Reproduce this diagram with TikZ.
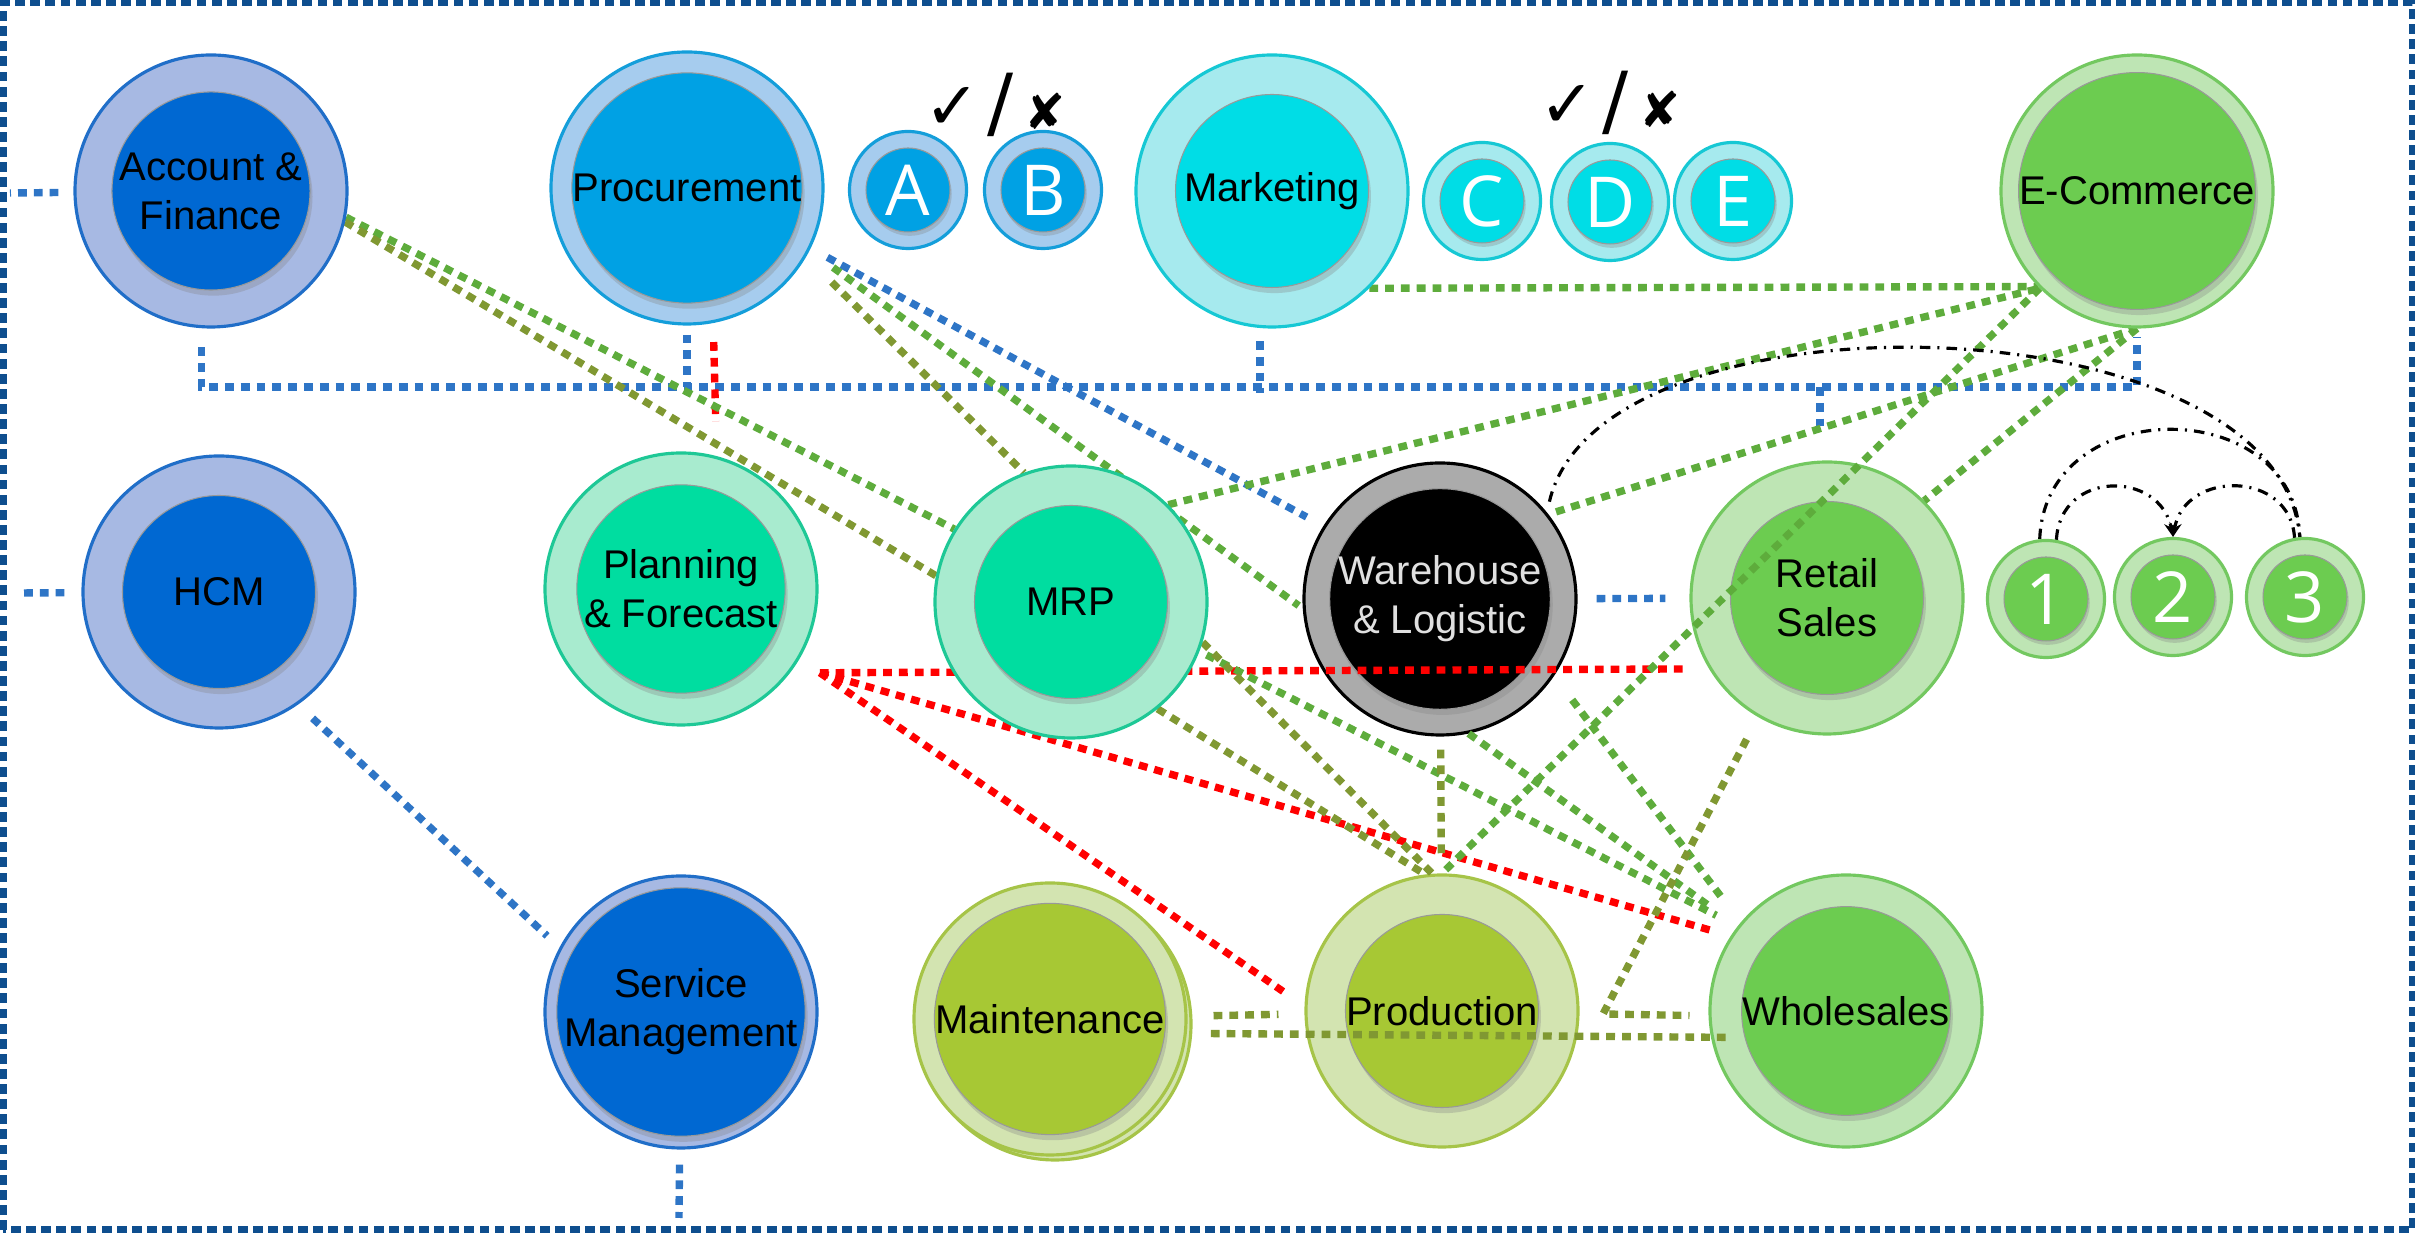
\documentclass[tikz,border=0pt]{standalone}
\usepackage{fontspec}
\setmainfont{Liberation Sans}
\newfontfamily\letterfont{Open Sans}
\newfontfamily\symfont{DejaVu Sans}
\usetikzlibrary{shadows,arrows.meta}

\definecolor{navyfill}{RGB}{167,185,227}
\definecolor{navyedge}{RGB}{32,110,200}
\definecolor{navyball}{RGB}{0,104,210}
\definecolor{skyfill}{RGB}{166,204,238}
\definecolor{skyedge}{RGB}{20,158,218}
\definecolor{skyball}{RGB}{0,161,228}
\definecolor{cyanfill}{RGB}{166,234,238}
\definecolor{cyanedge}{RGB}{22,200,212}
\definecolor{cyanball}{RGB}{0,221,230}
\definecolor{mintfill}{RGB}{168,235,207}
\definecolor{mintedge}{RGB}{30,200,150}
\definecolor{mintball}{RGB}{0,221,160}
\definecolor{leaffill}{RGB}{190,229,180}
\definecolor{leafedge}{RGB}{115,200,96}
\definecolor{leafball}{RGB}{108,204,80}
\definecolor{limefill}{RGB}{211,228,177}
\definecolor{limeedge}{RGB}{166,196,72}
\definecolor{limeball}{RGB}{167,200,52}
\definecolor{greyfill}{RGB}{171,171,171}
\definecolor{framecol}{RGB}{14,78,142}
\definecolor{buscol}{RGB}{46,117,198}
\definecolor{linkgreen}{RGB}{94,172,60}
\definecolor{linkolive}{RGB}{128,152,50}

\pgfdeclarelayer{under}
\pgfdeclarelayer{links}
\pgfsetlayers{under,links,main}

\tikzset{
  ring/.style 2 args={circle, minimum size=2.72cm, inner sep=0pt, fill=#1, draw=#2, line width=0.9pt},
  smallring/.style 2 args={circle, minimum size=1.17cm, inner sep=0pt, fill=#1, draw=#2, line width=0.9pt},
  ball/.style={circle, minimum size=1.93cm, inner sep=0pt, fill=#1, draw=black!40, line width=0.3pt,
    drop shadow={shadow xshift=0.7pt, shadow yshift=-1.6pt, opacity=0.3}, align=center,
    font=\fontsize{11.4}{14}\selectfont},
  smallball/.style={circle, minimum size=0.84cm, inner sep=0pt, fill=#1, draw=black!40, line width=0.3pt,
    drop shadow={shadow xshift=0.5pt, shadow yshift=-1.1pt, opacity=0.3}, text=white,
    font=\letterfont\fontsize{20}{20}\selectfont},
  ticks/.style={inner sep=0pt, font=\symfont},
  linkline/.style={line width=2.1pt, dash pattern=on 2.5pt off 2pt},
  bluelink/.style={linkline, buscol},
  redlink/.style={linkline, red},
  greenlink/.style={linkline, linkgreen},
  olivelink/.style={linkline, linkolive},
  arclink/.style={black, line width=0.9pt, dash pattern=on 3pt off 2pt on 0.6pt off 2pt},
  framebox/.style={framecol, line width=2pt, dash pattern=on 2.8pt off 1.5pt}
}

\begin{document}
\begin{tikzpicture}
\useasboundingbox (0,0) rectangle (24.15,12.33);
\draw[framebox] (0.03,0.03) rectangle (24.12,12.30);

\begin{pgfonlayer}{under}
\node[ring={greyfill}{black}] (wh) at (14.40,6.34) {};
\node[ball=black, text=black!12] at (wh) {Warehouse\\\& Logistic};
\node[ring={leaffill}{leafedge}] (retail) at (18.27,6.35) {};
\node[ball=leafball] at (retail) {Retail\\Sales};
\node[ring={limefill}{limeedge}] (prod) at (14.42,2.22) {};
\node[ball=limeball] at (prod) {Production};
\node[ring={leaffill}{leafedge}] (whole) at (18.46,2.22) {};
\node[ball=leafball] at (whole) {Wholesales};
\end{pgfonlayer}

\node[ring={navyfill}{navyedge}] (acc) at (2.11,10.42) {};
\node[ball=navyball] at (acc) {Account \&\\Finance};
\node[ring={navyfill}{navyedge}] (hcm) at (2.19,6.41) {};
\node[ball=navyball] at (hcm) {HCM};
\node[ring={navyfill}{navyedge}] (svc) at (6.81,2.21) {};
\node[ball=navyball] at (svc) {Service\\Management};

\node[ring={skyfill}{skyedge}] (proc) at (6.87,10.45) {};
\node[ball=skyball] at (proc) {Procurement};
\node[smallring={skyfill}{skyedge}] (a) at (9.08,10.43) {};
\node[smallball=skyball] at (a) {A};
\node[smallring={skyfill}{skyedge}] (b) at (10.43,10.43) {};
\node[smallball=skyball] at (b) {B};
\node[ticks] (tickab) at (9.95,11.28) {{\fontsize{19}{19}\selectfont ✓}\hspace{2pt}{\fontsize{22}{22}\selectfont /}\hspace{3pt}{\fontsize{14}{14}\selectfont ✘}};

\node[ring={cyanfill}{cyanedge}] (mkt) at (12.72,10.42) {};
\node[ball=cyanball] at (mkt) {Marketing};
\node[smallring={cyanfill}{cyanedge}] (c) at (14.82,10.32) {};
\node[smallball=cyanball] at (c) {C};
\node[smallring={cyanfill}{cyanedge}] (d) at (16.10,10.31) {};
\node[smallball=cyanball] at (d) {D};
\node[smallring={cyanfill}{cyanedge}] (e) at (17.33,10.32) {};
\node[smallball=cyanball] at (e) {E};
\node[ticks] (tickcd) at (16.10,11.30) {{\fontsize{19}{19}\selectfont ✓}\hspace{2pt}{\fontsize{22}{22}\selectfont /}\hspace{3pt}{\fontsize{14}{14}\selectfont ✘}};

\node[ring={leaffill}{leafedge}] (ecom) at (21.37,10.42) {};
\node[ball=leafball] at (ecom) {E-Commerce};

\node[ring={mintfill}{mintedge}] (plan) at (6.81,6.44) {};
\node[ball=mintball] at (plan) {Planning\\\& Forecast};
\node[ring={mintfill}{mintedge}] (mrp) at (10.71,6.31) {};
\node[ball=mintball] at (mrp) {MRP};

\node[smallring={leaffill}{leafedge}] (n1) at (20.46,6.34) {};
\node[smallball=leafball] at (n1) {1};
\node[smallring={leaffill}{leafedge}] (n2) at (21.73,6.36) {};
\node[smallball=leafball] at (n2) {2};
\node[smallring={leaffill}{leafedge}] (n3) at (23.05,6.36) {};
\node[smallball=leafball] at (n3) {3};

\node[ring={limefill}{limeedge}] at (10.55,2.09) {};
\node[ring={limefill}{limeedge}] (maint) at (10.50,2.14) {};
\node[ball=limeball] at (maint) {Maintenance};

\coordinate (accend) at (0.10,10.40);
\coordinate (hcmend) at (0.18,6.40);
\coordinate (svcend) at (6.79,0.15);
\coordinate (bus) at (0,8.46);
\coordinate (bend) at (16.03,2.19);
\coordinate (planfan) at ([shift={(0.29,-0.01)}]plan.-37);

\begin{pgfonlayer}{links}
\path[draw,bluelink,shorten <=0.15cm] (acc) -- (accend);
\path[draw,bluelink,shorten <=0.17cm] (hcm) -- (hcmend);
\path[draw,bluelink,shorten <=0.19cm,shorten >=0.08cm] (acc.266) -- (acc.266 |- bus) -- (ecom.south |- bus) -- (ecom.south);
\path[draw,bluelink,shorten <=0.09cm] (proc.south) -- (proc.south |- bus);
\path[draw,bluelink,shorten <=0.13cm,shorten >=-0.06cm] (mkt.265) -- (mkt.265 |- bus);
\path[draw,bluelink,shorten >=0.35cm] (retail.93 |- bus) -- (retail.93);
\path[draw,bluelink,shorten <=0.19cm,shorten >=0.19cm] (proc.-26) -- (wh.148);
\path[draw,bluelink,shorten <=0.20cm,shorten >=0.17cm] (hcm.-55) -- (svc.152);
\path[draw,bluelink,shorten <=0.15cm] (svc) -- (svcend);
\path[draw,bluelink,shorten <=0.19cm,shorten >=0.24cm] (wh) -- (retail);

\path[draw,redlink,shorten <=0.19cm,shorten >=0.35cm] (proc.-79) -- (plan.75);
\path[draw,redlink,shorten >=0.20cm] (planfan) -- (retail.211);
\path[draw,redlink,shorten >=0.21cm] (planfan) -- (whole.147);
\path[draw,redlink,shorten >=0.26cm] (planfan) -- (prod.178);

\path[draw,greenlink] (acc.-11) -- (mrp.148);
\path[draw,olivelink] (acc.-13) -- (mrp.169);
\path[draw,olivelink,shorten <=0.36cm] (proc.-30) -- (mrp.110);
\path[draw,greenlink,shorten <=0.29cm,shorten >=0.05cm] (proc.-27) -- (wh.184);
\path[draw,greenlink] (mkt.-45) -- (ecom.224);
\path[draw,greenlink] (mrp.45) -- (ecom.225);
\path[draw,greenlink] (ecom.225) -- (prod.north);
\path[draw,greenlink,shorten <=0.08cm] (wh.38) -- (ecom.south);
\path[draw,greenlink] (ecom.south) -- (retail.45);
\path[draw,greenlink,shorten <=0.08cm,shorten >=0.24cm] (mrp.-21) -- (whole.142);
\path[draw,greenlink,shorten >=0.32cm] (wh.-78) -- (whole.142);
\path[draw,greenlink,shorten <=0.30cm,shorten >=0.27cm] (wh.-34) -- (whole.140);

\path[draw,olivelink] (mrp.-17) -- (prod.94);
\path[draw,olivelink] (mrp.-51) -- (prod.97);
\path[draw,olivelink,shorten <=0.13cm,shorten >=0.16cm] (wh) -- (prod);
\path[draw,olivelink,shorten <=0.25cm,shorten >=0.19cm] (retail.240) -- (bend) -- (whole.182);
\path[draw,olivelink,shorten <=0.26cm,shorten >=0.26cm] (maint) -- (prod);
\path[draw,olivelink,shorten <=0.24cm,shorten >=-0.18cm] (maint.-6) -- (whole.191);

\path[draw,arclink,shorten <=0.11cm] (wh.39) .. controls (16.0,9.5) and (22.8,9.35) .. (n3.95);
\path[draw,arclink] (n1.96) .. controls (20.45,8.4) and (22.95,8.4) .. (n3.95);
\path[draw,arclink,-{Stealth[length=4pt,width=3.5pt]}] (n1.80) .. controls (20.6,7.63) and (21.6,7.63) .. (n2.north);
\path[draw,arclink,-{Stealth[length=4pt,width=3.5pt]}] (n3.100) .. controls (22.9,7.63) and (21.85,7.63) .. (n2.north);
\end{pgfonlayer}
\end{tikzpicture}
\end{document}
